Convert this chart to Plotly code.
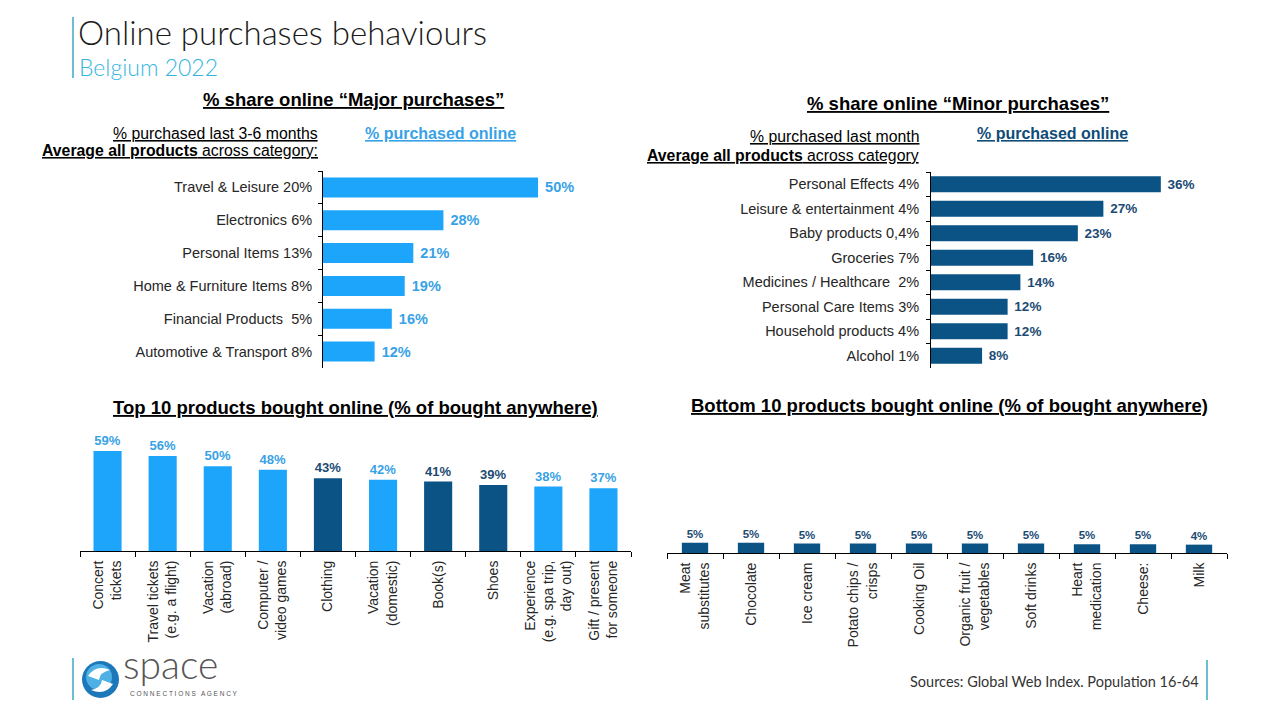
import plotly.graph_objects as go

W, H = 1280, 720
OFF = 8  # page body margin in the browser

# ---------------- data ----------------
major_cats = ["Travel & Leisure 20%", "Electronics 6%", "Personal Items 13%",
              "Home & Furniture Items 8%", "Financial Products  5%", "Automotive & Transport 8%"]
major_vals = [50, 28, 21, 19, 16, 12]

minor_cats = ["Personal Effects 4%", "Leisure & entertainment 4%", "Baby products 0,4%",
              "Groceries 7%", "Medicines / Healthcare  2%", "Personal Care Items 3%",
              "Household products 4%", "Alcohol 1%"]
minor_vals = [36, 27, 23, 16, 14, 12, 12, 8]

top_cats = ["Concert<br>tickets", "Travel tickets<br>(e.g. a flight)", "Vacation<br>(abroad)",
            "Computer /<br>video games", "Clothing", "Vacation<br>(domestic)", "Book(s)",
            "Shoes", "Experience<br>(e.g. spa trip,<br>day out)", "Gift / present<br>for someone"]
top_vals = [59, 56, 50, 48, 43, 42, 41, 39, 38, 37]
top_dark = [False, False, False, False, True, False, True, True, False, False]

bottom_cats = ["Meat<br>substitutes", "Chocolate", "Ice cream", "Potato chips /<br>crisps",
               "Cooking Oil", "Organic fruit /<br>vegetables", "Soft drinks", "Heart<br>medication",
               "Cheese:", "Milk"]
bottom_vals = [5.4, 5.4, 5.0, 5.0, 5.0, 5.0, 5.0, 4.6, 4.6, 4.4]

# ---------------- style ----------------
LIGHT = "#1DA5FB"
LIGHT_TXT = "#38A2E6"
DARK = "#0A5384"
DARK_TXT = "#1B4B73"
TEAL = "#3BA9C4"
FONT = "Liberation Sans, Arial, sans-serif"
TITLE_FONT = "Lato, Open Sans, sans-serif"
NB = "\u00a0"


def px(x):
    return (x - OFF) / W


def py(y):
    return 1 - (y - OFF) / H


fig = go.Figure()

# Major purchases
fig.add_trace(go.Bar(
    x=major_vals, y=major_cats, orientation="h", xaxis="x", yaxis="y",
    marker=dict(color=LIGHT, line=dict(width=0)),
    text=[f"{NB}{v}%" for v in major_vals], textposition="outside",
    textfont=dict(family=FONT, size=14.5, color=LIGHT_TXT, weight="bold"),
    cliponaxis=False, width=0.61, showlegend=False))

# Minor purchases
fig.add_trace(go.Bar(
    x=minor_vals, y=minor_cats, orientation="h", xaxis="x2", yaxis="y2",
    marker=dict(color=DARK, line=dict(width=0)),
    text=[f"{NB}{v}%" for v in minor_vals], textposition="outside",
    textfont=dict(family=FONT, size=13.5, color=DARK_TXT, weight="bold"),
    cliponaxis=False, width=0.65, showlegend=False))

# Top 10
fig.add_trace(go.Bar(
    x=top_cats, y=top_vals, xaxis="x3", yaxis="y3",
    marker=dict(color=[DARK if d else LIGHT for d in top_dark], line=dict(width=0)),
    text=[f"{v}%" for v in top_vals], textposition="outside",
    textfont=dict(family=FONT, size=13, color=[DARK_TXT if d else LIGHT_TXT for d in top_dark],
                  weight="bold"),
    cliponaxis=False, width=0.51, showlegend=False))

# Bottom 10
fig.add_trace(go.Bar(
    x=bottom_cats, y=bottom_vals, xaxis="x4", yaxis="y4",
    marker=dict(color=DARK, line=dict(width=0)),
    text=[f"{round(v)}%" for v in bottom_vals], textposition="outside",
    textfont=dict(family=FONT, size=11.5, color=DARK_TXT, weight="bold"),
    cliponaxis=False, width=0.47, showlegend=False))


def cat_axis(size, standoff):
    return dict(type="category", showline=True, linecolor="#000000", linewidth=1,
                ticks="outside", tickson="boundaries", ticklen=5, tickcolor="#000000",
                showgrid=False, tickfont=dict(family=FONT, size=size, color="#262626"),
                ticklabelstandoff=standoff, fixedrange=True)


val_axis = dict(visible=False, showgrid=False, zeroline=False, fixedrange=True)

fig.update_layout(
    width=W, height=H, margin=dict(l=0, r=0, t=0, b=0),
    paper_bgcolor="white", plot_bgcolor="rgba(0,0,0,0)",
    xaxis=dict(val_axis, domain=[px(323), px(600)], range=[0, 64.4], anchor="y"),
    yaxis=dict(cat_axis(14.5, 7), domain=[py(368), py(171)], autorange="reversed", anchor="x", ticklen=4),
    xaxis2=dict(val_axis, domain=[px(931), px(1240)], range=[0, 48.4], anchor="y2"),
    yaxis2=dict(cat_axis(14.5, 8), domain=[py(368), py(172)], autorange="reversed", anchor="x2", ticklen=4),
    xaxis3=dict(cat_axis(14, 3), domain=[px(80), px(631)], anchor="y3", tickangle=-90),
    yaxis3=dict(val_axis, domain=[py(551), py(430)], range=[0, 71.4], anchor="x3"),
    xaxis4=dict(cat_axis(14, 3), domain=[px(667), px(1227)], anchor="y4", tickangle=-90),
    yaxis4=dict(val_axis, domain=[py(553), py(432)], range=[0, 63.7], anchor="x4"),
)

ann = []


def add_text(text, x, y, size, color="#000000", xanchor="center", bold=False, under=False,
             family=FONT, weight=None):
    f = dict(family=family, size=size, color=color)
    if bold:
        f["weight"] = "bold"
    if weight is not None:
        f["weight"] = weight
    if under:
        f["lineposition"] = "under"
    ann.append(dict(text=text, x=px(x), y=py(y), xref="paper", yref="paper",
                    xanchor=xanchor, yanchor="middle", showarrow=False, font=f,
                    align=xanchor))


add_text("Online purchases behaviours", 76, 32, 33, "#1a1a1a", "left", family=TITLE_FONT, weight=300)
add_text("Belgium 2022", 77, 67, 23, "#35B5DF", "left", family=TITLE_FONT, weight=300)

add_text("% share online “Major purchases”", 353, 99, 18.5, bold=True, under=True)
add_text("% purchased last 3-6 months", 320, 133, 15.8, "#000000", "right", under=True)
add_text("<b>Average all products</b> across category:", 320, 151, 15.8, "#000000", "right", under=True)
add_text("% purchased online", 440, 133, 16, LIGHT_TXT, bold=True, under=True)

add_text("% share online “Minor purchases”", 958, 104, 18.5, bold=True, under=True)
add_text("% purchased last month", 921, 136, 15.8, "#000000", "right", under=True)
add_text("<b>Average all products</b> across category", 921, 156, 15.8, "#000000", "right", under=True)
add_text("% purchased online", 1052, 133, 16, "#0F4C78", bold=True, under=True)

add_text("Top 10 products bought online (% of bought anywhere)", 355, 407, 18.5, bold=True, under=True)
add_text("Bottom 10 products bought online (% of bought anywhere)", 949, 405, 18.5, bold=True, under=True)

add_text("Sources: Global Web Index. Population 16-64", 1201, 681, 14.5, "#333333", "right",
         family=TITLE_FONT)

add_text("space", 121, 664, 39, "#555555", "left", family=TITLE_FONT, weight=300)
add_text("C O N N E C T I O N S   A G E N C Y", 128, 693, 6.5, "#555555", "left", family=FONT)

fig.update_layout(annotations=ann)

shapes = [
    dict(type="line", xref="paper", yref="paper", x0=px(73), x1=px(73), y0=py(17), y1=py(78),
         line=dict(color=TEAL, width=1.5)),
    dict(type="line", xref="paper", yref="paper", x0=px(73), x1=px(73), y0=py(658), y1=py(700),
         line=dict(color=TEAL, width=1.5)),
    dict(type="line", xref="paper", yref="paper", x0=px(1207), x1=px(1207), y0=py(660), y1=py(700),
         line=dict(color=TEAL, width=1.5)),
    # logo sphere
    dict(type="circle", xref="paper", yref="paper", x0=px(82), x1=px(119), y0=py(698), y1=py(661),
         fillcolor="#1C78B8", line=dict(width=0)),
    dict(type="circle", xref="paper", yref="paper", x0=px(86), x1=px(112), y0=py(690), y1=py(664),
         fillcolor="#4FB0E6", line=dict(width=0)),
    dict(type="path", xref="paper", yref="paper",
         path=f"M {px(88)},{py(676)} Q {px(96)},{py(664)} {px(110)},{py(670)} "
              f"Q {px(100)},{py(672)} {px(99)},{py(680)} Z",
         fillcolor="white", line=dict(width=0)),
    dict(type="path", xref="paper", yref="paper",
         path=f"M {px(113)},{py(684)} Q {px(105)},{py(696)} {px(91)},{py(690)} "
              f"Q {px(101)},{py(688)} {px(102)},{py(680)} Z",
         fillcolor="white", line=dict(width=0)),
]
fig.update_layout(shapes=shapes)

fig.write_html("out.html")
